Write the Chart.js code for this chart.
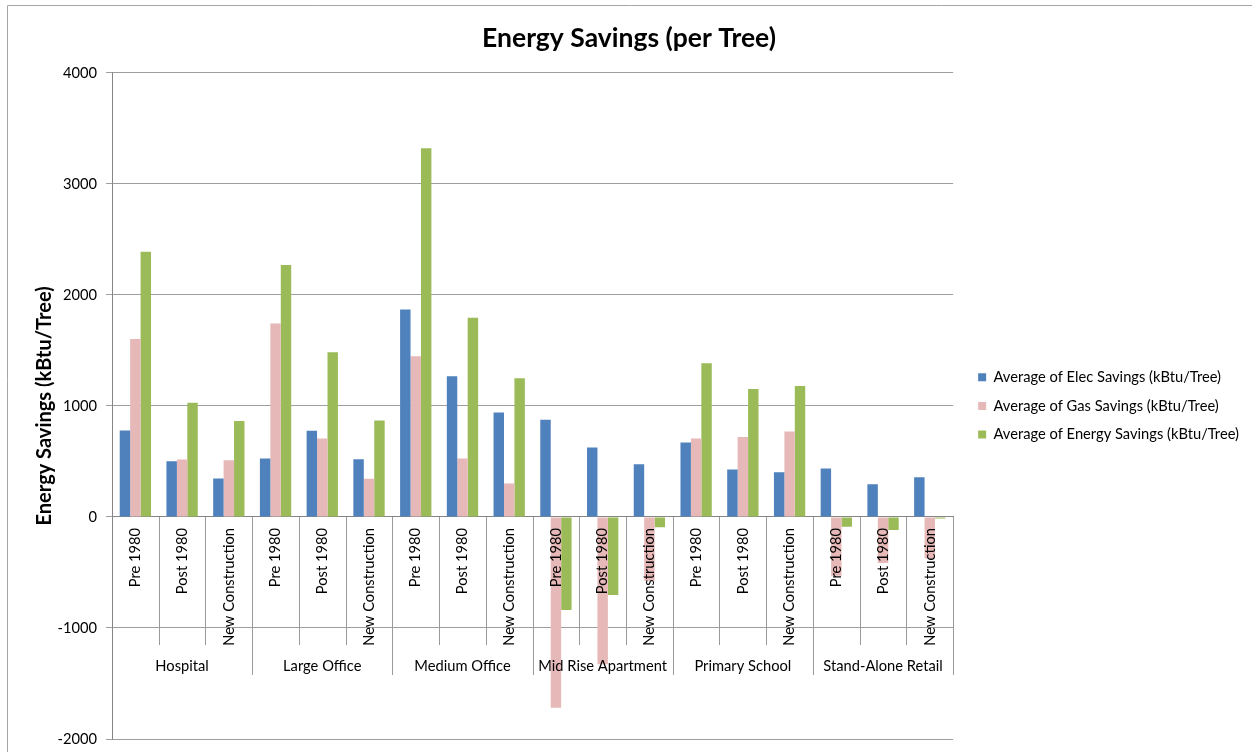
<!DOCTYPE html>
<html>
<head>
<meta charset="utf-8">
<script src="https://cdn.jsdelivr.net/npm/chart.js@4"></script>
<style>
  html, body { margin: 0; padding: 0; background: #fff; }
  #wrap { position: relative; width: 1252px; height: 752px; }
</style>
</head>
<body>
<div id="wrap"><canvas id="c" width="1252" height="752"></canvas></div>
<script>
// ---- data ----
const groups = ['Hospital', 'Large Office', 'Medium Office', 'Mid Rise Apartment', 'Primary School', 'Stand-Alone Retail'];
const vintages = ['Pre 1980', 'Post 1980', 'New Construction'];
const elecSavings   = [779, 502, 346, 526, 776, 520, 1868, 1266, 941, 875, 625, 475, 671, 427, 403, 436, 294, 357];
const gasSavings    = [1603, 517, 511, 1742, 707, 343, 1447, 526, 300, -1718, -1327, -575, 707, 719, 770, -530, -415, -374];
const energySavings = [2388, 1029, 863, 2268, 1483, 869, 3321, 1793, 1248, -839, -704, -94, 1384, 1152, 1179, -88, -117, -15];
const seriesNames = ['Average of Elec Savings (kBtu/Tree)', 'Average of Gas Savings (kBtu/Tree)', 'Average of Energy Savings (kBtu/Tree)'];
const yTicks = [-2000, -1000, 0, 1000, 2000, 3000, 4000];

const categories = [];
groups.forEach(() => vintages.forEach(v => categories.push(v)));

const FONT = 'Lato, "Open Sans", sans-serif';
const BASE = 14.7;

const frame = {
  id: 'frame',
  beforeDraw(chart) {
    const ctx = chart.ctx;
    ctx.save();
    ctx.strokeStyle = '#a6a6a6';
    ctx.lineWidth = 1;
    ctx.beginPath();
    ctx.moveTo(7.5, 760); ctx.lineTo(7.5, 5.5); ctx.lineTo(1260, 5.5);
    ctx.stroke();
    ctx.restore();
  }
};

const boxShift = {
  id: 'boxShift',
  afterLayout(chart) {
    const lg = chart.legend;
    if (lg) { lg.left += 11; lg.right += 11; }
    const tb = chart.titleBlock;
    if (tb) { tb.left += 10; tb.right += 10; }
  }
};

const groupAxis = {
  id: 'groupAxis',
  beforeDatasetsDraw(chart) {
    const x = chart.scales.x, y = chart.scales.y, ctx = chart.ctx;
    const y0 = Math.round(y.getPixelForValue(0));
    const n = categories.length;
    const step = x.getPixelForValue(1) - x.getPixelForValue(0);
    ctx.save();
    ctx.strokeStyle = '#9a9a9a';
    ctx.lineWidth = 1;
    for (let i = 1; i <= n; i++) {
      const px = Math.round(x.getPixelForValue(i - 1) + step / 2) + 0.5;
      const isGroup = i % vintages.length === 0;
      ctx.beginPath();
      ctx.moveTo(px, y0);
      ctx.lineTo(px, y0 + (isGroup ? 158 : 128));
      ctx.stroke();
    }
    ctx.restore();
  },
  afterDatasetsDraw(chart) {
    const x = chart.scales.x, y = chart.scales.y, ctx = chart.ctx;
    const y0 = y.getPixelForValue(0);
    ctx.save();
    ctx.fillStyle = '#000';
    ctx.font = BASE + 'px ' + FONT;
    ctx.textAlign = 'center';
    ctx.textBaseline = 'middle';
    groups.forEach((g, gi) => {
      const cx = x.getPixelForValue(gi * vintages.length + 1);
      ctx.fillText(g, cx, y0 + 149);
    });
    ctx.restore();
  }
};

new Chart(document.getElementById('c'), {
  type: 'bar',
  data: {
    labels: categories,
    datasets: [
      { label: seriesNames[0], data: elecSavings, backgroundColor: '#4F81BD' },
      { label: seriesNames[1], data: gasSavings, backgroundColor: '#E6B9B8' },
      { label: seriesNames[2], data: energySavings, backgroundColor: '#9BBB59' }
    ]
  },
  options: {
    responsive: false,
    animation: false,
    devicePixelRatio: 1,
    layout: { padding: { top: 0, left: 0, bottom: 13, right: 14 } },
    datasets: { bar: { categoryPercentage: 0.67, barPercentage: 1.0 } },
    plugins: {
      title: {
        display: true,
        text: 'Energy Savings (per Tree)',
        color: '#000',
        font: { family: FONT, size: 26.5, weight: 'bold' },
        padding: { top: 23, bottom: 18 }
      },
      legend: {
        position: 'right',
        align: 'center',
        fullSize: false,
        maxWidth: 285,
        labels: {
          color: '#000',
          font: { family: FONT, size: BASE },
          boxWidth: 8, boxHeight: 8,
          padding: 14
        }
      },
      tooltip: { enabled: false }
    },
    scales: {
      x: {
        type: 'category',
        position: { y: 0 },
        grid: { display: false, drawTicks: false },
        border: { display: true, color: '#868686', width: 1 },
        ticks: {
          z: 1,
          color: '#000',
          font: { family: FONT, size: BASE },
          minRotation: 90, maxRotation: 90,
          padding: 11,
          autoSkip: false
        }
      },
      y: {
        min: -2000, max: 4000,
        afterBuildTicks(scale) { scale.ticks = yTicks.map(v => ({ value: v })); },
        afterFit(scale) { scale.width = 112; scale.paddingTop = 0; scale.paddingBottom = 0; },
        grid: { color: '#9e9e9e', tickLength: 6, drawTicks: true },
        border: { display: true, color: '#868686', width: 1 },
        ticks: { color: '#000', font: { family: FONT, size: BASE }, padding: 9, callback: v => String(v) },
        title: {
          display: true,
          text: 'Energy Savings (kBtu/Tree)',
          color: '#000',
          font: { family: FONT, size: 20, weight: 'bold' },
          padding: { top: 33, bottom: 0 }
        }
      }
    }
  },
  plugins: [frame, boxShift, groupAxis]
});
</script>
</body>
</html>
